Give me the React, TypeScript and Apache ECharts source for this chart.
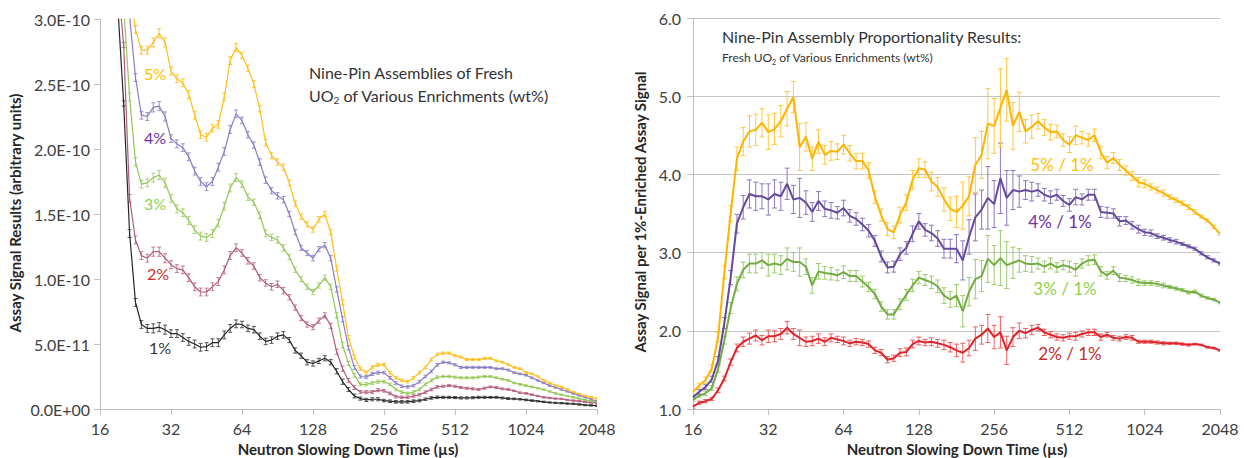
import React, { useEffect, useRef } from "react";
import * as echarts from "echarts";

// Slowing-down time grid (µs), log2 spaced
const times = [16, 16.95, 17.96, 19.03, 20.16, 21.36, 22.63, 23.97, 25.4, 26.91, 28.51, 30.2,
  32, 33.9, 35.92, 38.05, 40.32, 42.71, 45.25, 47.95, 50.8, 53.82, 57.02, 60.41,
  64, 67.8, 71.84, 76.11, 80.63, 85.43, 90.51, 95.89, 101.6, 107.6, 114, 120.8,
  128, 135.6, 143.7, 152.2, 161.3, 170.9, 181, 191.8, 203.2, 215.3, 228.1, 241.6,
  256, 271.2, 287.4, 304.4, 322.5, 341.7, 362, 383.6, 406.4, 430.5, 456.1, 483.3,
  512, 542.4, 574.7, 608.9, 645.1, 683.4, 724.1, 767.1, 812.7, 861, 912.2, 966.5,
  1024, 1085, 1149, 1218, 1290, 1367, 1448, 1534, 1625, 1722, 1825, 1933, 2048];

// Left panel: assay signal (units of 1E-10)
const sig5 = [9, 7, 5.5, 4.4, 3.7, 3.25, 2.92, 2.76, 2.76, 2.82, 2.89, 2.82,
  2.6, 2.54, 2.51, 2.42, 2.26, 2.11, 2.09, 2.16, 2.19, 2.4, 2.68, 2.78,
  2.72, 2.62, 2.5, 2.31, 2.05, 1.95, 1.9, 1.86, 1.74, 1.58, 1.48, 1.42,
  1.38, 1.46, 1.5, 1.36, 1.08, 0.82, 0.55, 0.4, 0.31, 0.28, 0.32, 0.34,
  0.34, 0.28, 0.24, 0.22, 0.21, 0.24, 0.28, 0.32, 0.38, 0.42, 0.43, 0.43,
  0.41, 0.4, 0.38, 0.38, 0.38, 0.39, 0.39, 0.37, 0.36, 0.34, 0.32, 0.31,
  0.28, 0.27, 0.25, 0.22, 0.2, 0.18, 0.17, 0.15, 0.13, 0.115, 0.1, 0.09, 0.08];
const sig4 = [8.5, 6.5, 5, 4, 3.3, 3.02, 2.55, 2.26, 2.25, 2.32, 2.33, 2.25,
  2.08, 2.04, 2.01, 1.94, 1.83, 1.75, 1.71, 1.75, 1.86, 1.98, 2.15, 2.27,
  2.22, 2.11, 2.03, 1.9, 1.76, 1.68, 1.64, 1.61, 1.5, 1.36, 1.24, 1.2,
  1.16, 1.23, 1.26, 1.16, 0.92, 0.69, 0.47, 0.32, 0.25, 0.245, 0.27, 0.28,
  0.28, 0.24, 0.2, 0.175, 0.17, 0.18, 0.21, 0.25, 0.29, 0.34, 0.36, 0.355,
  0.34, 0.32, 0.32, 0.32, 0.32, 0.32, 0.32, 0.31, 0.31, 0.3, 0.28, 0.27,
  0.26, 0.24, 0.22, 0.2, 0.18, 0.165, 0.15, 0.135, 0.12, 0.105, 0.09, 0.075, 0.06];
const sig3 = [8, 6, 4.6, 3.7, 3.1, 2.4, 1.9, 1.73, 1.74, 1.78, 1.8, 1.74,
  1.62, 1.54, 1.51, 1.45, 1.38, 1.33, 1.32, 1.35, 1.43, 1.56, 1.7, 1.78,
  1.73, 1.63, 1.59, 1.49, 1.35, 1.32, 1.3, 1.24, 1.17, 1.07, 1, 0.94,
  0.9, 0.95, 1.01, 0.94, 0.72, 0.49, 0.35, 0.26, 0.19, 0.19, 0.2, 0.21,
  0.21, 0.19, 0.15, 0.13, 0.12, 0.13, 0.15, 0.19, 0.22, 0.245, 0.25, 0.25,
  0.245, 0.24, 0.24, 0.24, 0.245, 0.25, 0.25, 0.24, 0.23, 0.22, 0.2, 0.19,
  0.18, 0.17, 0.16, 0.15, 0.135, 0.12, 0.11, 0.1, 0.09, 0.08, 0.07, 0.06, 0.055];
const sig2 = [7.5, 5.5, 4.2, 3.3, 2.8, 1.62, 1.3, 1.18, 1.16, 1.21, 1.21, 1.16,
  1.11, 1.08, 1.07, 1.01, 0.94, 0.9, 0.9, 0.94, 0.98, 1.07, 1.18, 1.24,
  1.2, 1.14, 1.1, 1.01, 0.97, 0.94, 0.96, 0.91, 0.86, 0.78, 0.7, 0.65,
  0.63, 0.68, 0.72, 0.64, 0.44, 0.31, 0.22, 0.165, 0.13, 0.13, 0.13, 0.145,
  0.14, 0.12, 0.095, 0.09, 0.09, 0.1, 0.11, 0.13, 0.15, 0.17, 0.175, 0.18,
  0.175, 0.165, 0.16, 0.155, 0.15, 0.16, 0.17, 0.165, 0.155, 0.15, 0.14, 0.125,
  0.12, 0.11, 0.1, 0.09, 0.085, 0.08, 0.078, 0.07, 0.065, 0.06, 0.055, 0.05, 0.045];
const sig1 = [7, 5, 3.8, 3.1, 2.35, 1.35, 0.82, 0.65, 0.62, 0.62, 0.63, 0.61,
  0.58, 0.58, 0.55, 0.52, 0.5, 0.475, 0.48, 0.51, 0.51, 0.57, 0.62, 0.655,
  0.65, 0.62, 0.61, 0.56, 0.52, 0.53, 0.56, 0.57, 0.53, 0.45, 0.41, 0.36,
  0.35, 0.37, 0.39, 0.36, 0.29, 0.21, 0.15, 0.1, 0.08, 0.07, 0.075, 0.075,
  0.065, 0.06, 0.055, 0.055, 0.055, 0.06, 0.065, 0.075, 0.085, 0.09, 0.09, 0.09,
  0.088, 0.085, 0.085, 0.087, 0.09, 0.09, 0.09, 0.09, 0.085, 0.08, 0.078, 0.075,
  0.07, 0.065, 0.06, 0.055, 0.05, 0.047, 0.045, 0.042, 0.04, 0.035, 0.03, 0.028, 0.025];
const sigErr = [0.02, 0.02, 0.02, 0.02, 0.02, 0.03, 0.03, 0.03, 0.03, 0.035, 0.035, 0.035,
  0.03, 0.03, 0.03, 0.03, 0.03, 0.03, 0.03, 0.03, 0.03, 0.03, 0.03, 0.03,
  0.025, 0.025, 0.025, 0.025, 0.025, 0.025, 0.025, 0.025, 0.02, 0.02, 0.02, 0.02,
  0.02, 0.02, 0.02, 0.02, 0.02, 0.02, 0.015, 0.015, 0.012, 0.012, 0.012, 0.012,
  0.01, 0.01, 0.01, 0.01, 0.01, 0.01, 0.01, 0.01, 0.01, 0.01, 0.008, 0.008,
  0.008, 0.008, 0.008, 0.008, 0.008, 0.008, 0.007, 0.007, 0.007, 0.007, 0.006, 0.006,
  0.006, 0.006, 0.005, 0.005, 0.005, 0.005, 0.005, 0.005, 0.005, 0.005, 0.005, 0.005, 0.005];

// Right panel: ratio to 1%-enriched signal
const r5 = [1.22, 1.3, 1.37, 1.52, 1.92, 2.75, 3.5, 4.2, 4.42, 4.55, 4.57, 4.66,
  4.54, 4.58, 4.68, 4.84, 4.99, 4.35, 4.48, 4.2, 4.42, 4.25, 4.3, 4.29,
  4.38, 4.27, 4.17, 4.17, 4.05, 3.71, 3.48, 3.3, 3.26, 3.48, 3.64, 3.93,
  4.08, 4.06, 3.91, 3.84, 3.68, 3.56, 3.52, 3.6, 3.72, 4.12, 4.25, 4.65,
  4.62, 4.85, 5.08, 4.62, 4.8, 4.55, 4.61, 4.68, 4.6, 4.54, 4.55, 4.44,
  4.38, 4.5, 4.47, 4.44, 4.5, 4.28, 4.15, 4.21, 4.12, 4.05, 3.98, 3.9,
  3.88, 3.84, 3.8, 3.76, 3.71, 3.67, 3.63, 3.58, 3.52, 3.46, 3.41, 3.33, 3.24];
const r4 = [1.15, 1.22, 1.28, 1.38, 1.62, 2.1, 2.68, 3.37, 3.58, 3.75, 3.72, 3.72,
  3.68, 3.75, 3.72, 3.88, 3.68, 3.7, 3.64, 3.52, 3.66, 3.56, 3.54, 3.51,
  3.57, 3.47, 3.43, 3.36, 3.28, 3.15, 2.95, 2.81, 2.82, 2.98, 3.06, 3.24,
  3.4, 3.29, 3.25, 3.18, 3.05, 3.05, 3.05, 2.9, 3.2, 3.45, 3.55, 3.7,
  3.62, 3.95, 3.7, 3.8, 3.78, 3.8, 3.78, 3.8, 3.74, 3.71, 3.74, 3.66,
  3.61, 3.71, 3.68, 3.74, 3.74, 3.52, 3.51, 3.5, 3.4, 3.41, 3.35, 3.3,
  3.26, 3.25, 3.21, 3.19, 3.16, 3.14, 3.11, 3.08, 3.05, 2.99, 2.94, 2.9, 2.86];
const r3 = [1.12, 1.17, 1.2, 1.27, 1.51, 1.88, 2.29, 2.6, 2.78, 2.86, 2.86, 2.9,
  2.84, 2.86, 2.84, 2.92, 2.88, 2.88, 2.82, 2.58, 2.76, 2.74, 2.73, 2.71,
  2.75, 2.7, 2.7, 2.63, 2.56, 2.47, 2.31, 2.21, 2.21, 2.34, 2.46, 2.58,
  2.68, 2.65, 2.62, 2.57, 2.45, 2.4, 2.45, 2.25, 2.5, 2.66, 2.7, 2.92,
  2.84, 2.93, 2.84, 2.87, 2.9, 2.86, 2.85, 2.86, 2.82, 2.86, 2.81, 2.84,
  2.82, 2.78, 2.86, 2.9, 2.91, 2.76, 2.71, 2.77, 2.68, 2.67, 2.65, 2.62,
  2.61, 2.61, 2.6, 2.58, 2.56, 2.54, 2.52, 2.49, 2.5, 2.45, 2.42, 2.4, 2.36];
const r2 = [1.03, 1.08, 1.1, 1.13, 1.24, 1.39, 1.6, 1.78, 1.86, 1.9, 1.94, 1.88,
  1.93, 1.93, 1.96, 2.04, 1.96, 1.91, 1.86, 1.87, 1.9, 1.86, 1.91, 1.89,
  1.87, 1.84, 1.86, 1.85, 1.83, 1.75, 1.72, 1.63, 1.65, 1.72, 1.73, 1.83,
  1.87, 1.85, 1.86, 1.84, 1.82, 1.79, 1.75, 1.72, 1.78, 1.9, 1.95, 2.03,
  1.92, 1.98, 1.75, 1.92, 2, 1.97, 2.01, 2.04, 1.98, 1.95, 1.92, 1.91,
  1.93, 1.93, 1.96, 1.98, 1.98, 1.92, 1.95, 1.91, 1.9, 1.92, 1.91, 1.86,
  1.86, 1.86, 1.85, 1.84, 1.84, 1.84, 1.83, 1.82, 1.83, 1.82, 1.79, 1.78, 1.75];
const r5Err = [0.03, 0.03, 0.04, 0.05, 0.06, 0.08, 0.1, 0.15, 0.18, 0.2, 0.2, 0.18,
  0.22, 0.2, 0.2, 0.22, 0.2, 0.3, 0.18, 0.15, 0.15, 0.12, 0.12, 0.1,
  0.12, 0.1, 0.1, 0.1, 0.1, 0.08, 0.08, 0.08, 0.08, 0.1, 0.1, 0.12,
  0.12, 0.1, 0.12, 0.12, 0.15, 0.15, 0.2, 0.3, 0.25, 0.35, 0.3, 0.45,
  0.35, 0.5, 0.4, 0.3, 0.25, 0.15, 0.15, 0.1, 0.1, 0.1, 0.08, 0.08,
  0.1, 0.12, 0.08, 0.08, 0.08, 0.08, 0.08, 0.07, 0.07, 0.06, 0.06, 0.06,
  0.05, 0.04, 0.04, 0.04, 0.03, 0.03, 0.03, 0.03, 0.03, 0.02, 0.02, 0.02, 0.02];
const r4Err = [0.03, 0.03, 0.03, 0.04, 0.05, 0.07, 0.09, 0.12, 0.15, 0.18, 0.18, 0.16,
  0.2, 0.18, 0.18, 0.2, 0.18, 0.25, 0.15, 0.12, 0.12, 0.1, 0.1, 0.08,
  0.1, 0.08, 0.08, 0.08, 0.08, 0.07, 0.07, 0.07, 0.07, 0.08, 0.08, 0.1,
  0.1, 0.08, 0.1, 0.1, 0.12, 0.12, 0.18, 0.25, 0.22, 0.3, 0.25, 0.4,
  0.3, 0.45, 0.35, 0.25, 0.2, 0.12, 0.12, 0.08, 0.08, 0.08, 0.07, 0.07,
  0.08, 0.1, 0.07, 0.07, 0.07, 0.07, 0.07, 0.06, 0.06, 0.05, 0.05, 0.05,
  0.04, 0.04, 0.03, 0.03, 0.03, 0.03, 0.02, 0.02, 0.02, 0.02, 0.02, 0.02, 0.02];
const r3Err = [0.02, 0.02, 0.03, 0.03, 0.04, 0.05, 0.07, 0.09, 0.1, 0.12, 0.12, 0.1,
  0.14, 0.12, 0.12, 0.14, 0.12, 0.18, 0.1, 0.1, 0.1, 0.08, 0.08, 0.07,
  0.08, 0.07, 0.07, 0.07, 0.06, 0.06, 0.06, 0.06, 0.06, 0.07, 0.07, 0.08,
  0.08, 0.07, 0.08, 0.08, 0.1, 0.1, 0.14, 0.2, 0.18, 0.25, 0.2, 0.3,
  0.25, 0.35, 0.3, 0.2, 0.15, 0.1, 0.1, 0.07, 0.07, 0.07, 0.06, 0.06,
  0.07, 0.08, 0.06, 0.06, 0.06, 0.06, 0.05, 0.05, 0.05, 0.04, 0.04, 0.04,
  0.03, 0.03, 0.03, 0.03, 0.02, 0.02, 0.02, 0.02, 0.02, 0.02, 0.015, 0.015, 0.015];
const r2Err = [0.02, 0.02, 0.02, 0.02, 0.03, 0.03, 0.04, 0.05, 0.06, 0.07, 0.07, 0.06,
  0.08, 0.07, 0.07, 0.08, 0.07, 0.1, 0.06, 0.06, 0.06, 0.05, 0.05, 0.04,
  0.05, 0.04, 0.04, 0.04, 0.04, 0.04, 0.04, 0.04, 0.04, 0.05, 0.05, 0.05,
  0.05, 0.04, 0.05, 0.05, 0.06, 0.06, 0.08, 0.12, 0.1, 0.15, 0.12, 0.18,
  0.15, 0.2, 0.18, 0.12, 0.1, 0.06, 0.06, 0.04, 0.04, 0.04, 0.04, 0.04,
  0.04, 0.05, 0.04, 0.04, 0.04, 0.04, 0.03, 0.03, 0.03, 0.03, 0.03, 0.02,
  0.02, 0.02, 0.02, 0.02, 0.015, 0.015, 0.015, 0.015, 0.01, 0.01, 0.01, 0.01, 0.01];

const xTicks = ["16", "32", "64", "128", "256", "512", "1024", "2048"];

const FONT = "Lato";
const AXIS_GRAY = "#BFBFBF";
const TEXT = "#404040";

function lineSeries(grid: number, vals: number[], color: string, width: number) {
  return {
    type: "line",
    xAxisIndex: grid,
    yAxisIndex: grid,
    data: times.map((t, i) => [t, vals[i]]),
    showSymbol: false,
    symbol: "none",
    lineStyle: { color, width },
    z: 3,
    clip: true,
  };
}

function errSeries(grid: number, vals: number[], errs: number[], color: string, cap: number, ymax: number) {
  const data = times
    .map((t, i) => [t, vals[i] - errs[i], vals[i] + errs[i]])
    .filter((d) => d[2] <= ymax);
  return {
    type: "custom",
    xAxisIndex: grid,
    yAxisIndex: grid,
    silent: true,
    z: 2,
    clip: true,
    encode: { x: 0, y: [1, 2] },
    data,
    renderItem: (_p: any, api: any) => {
      const lo = api.coord([api.value(0), api.value(1)]);
      const hi = api.coord([api.value(0), api.value(2)]);
      const style = { stroke: color, lineWidth: 1 };
      return {
        type: "group",
        children: [
          { type: "line", shape: { x1: lo[0], y1: lo[1], x2: hi[0], y2: hi[1] }, style },
          { type: "line", shape: { x1: lo[0] - cap, y1: lo[1], x2: lo[0] + cap, y2: lo[1] }, style },
          { type: "line", shape: { x1: hi[0] - cap, y1: hi[1], x2: hi[0] + cap, y2: hi[1] }, style },
        ],
      };
    },
  };
}

function sciLabel(v: number) {
  const s = (v * 1e-10).toExponential(1).toUpperCase();
  return s.replace(/E([+-])(\d)$/, "E$10$2");
}

function xAxisCfg(grid: number) {
  return {
    type: "log",
    logBase: 2,
    gridIndex: grid,
    min: 16,
    max: 2048,
    axisLine: { show: true, lineStyle: { color: AXIS_GRAY, width: 1 } },
    axisTick: { show: true, length: 6, lineStyle: { color: AXIS_GRAY } },
    axisLabel: {
      color: TEXT,
      fontFamily: FONT,
      fontSize: 16,
      margin: 11,
      lineHeight: 16,
      formatter: (v: number) => xTicks.find((s) => Math.abs(Number(s) - v) < 0.5) || String(Math.round(v)),
    },
    splitLine: { show: false },
    minorTick: { show: false },
  };
}

function txt(x: number, y: number, text: string, color: string, fontSize: number, extra: any = {}) {
  return {
    type: "text",
    x,
    y,
    silent: true,
    style: {
      text,
      fill: color,
      fontSize,
      fontFamily: FONT,
      textAlign: extra.align || "center",
      textVerticalAlign: "middle",
      fontWeight: extra.bold ? "bold" : "normal",
      rich: extra.rich,
    },
    rotation: extra.rotation || 0,
  };
}

export default function App() {
  const ref = useRef<HTMLDivElement>(null);
  useEffect(() => {
    if (!ref.current) return;
    const chart = echarts.init(ref.current, undefined, { renderer: "svg" });
    const subRich = (size: number) => ({
      n: { fontSize: size, fontFamily: FONT, color: "#333333" },
      s: { fontSize: Math.round(size * 0.62), fontFamily: FONT, color: "#333333", verticalAlign: "bottom", lineHeight: size + 4 },
    });
    chart.setOption({
      animation: false,
      backgroundColor: "#ffffff",
      grid: [
        { left: 100, top: 19, width: 497, height: 390 },
        { left: 693, top: 18, width: 527, height: 391 },
      ],
      xAxis: [xAxisCfg(0), xAxisCfg(1)],
      yAxis: [
        {
          type: "value",
          gridIndex: 0,
          min: 0,
          max: 3,
          interval: 0.5,
          axisLine: { show: true, lineStyle: { color: AXIS_GRAY } },
          axisTick: { show: true, length: 6, lineStyle: { color: AXIS_GRAY } },
          axisLabel: { color: TEXT, fontFamily: FONT, fontSize: 16, margin: 10, formatter: sciLabel },
          splitLine: { show: false },
        },
        {
          type: "value",
          gridIndex: 1,
          min: 1,
          max: 6,
          interval: 1,
          axisLine: { show: true, lineStyle: { color: AXIS_GRAY } },
          axisTick: { show: true, length: 6, lineStyle: { color: AXIS_GRAY } },
          axisLabel: { color: TEXT, fontFamily: FONT, fontSize: 16, margin: 12, formatter: (v: number) => v.toFixed(1) },
          splitLine: { show: true, lineStyle: { color: "#C4C4C4", width: 1 } },
        },
      ],
      series: [
        errSeries(0, sig1, sigErr, "#555555", 2, 3),
        errSeries(0, sig2, sigErr, "#C27A95", 2, 3),
        errSeries(0, sig3, sigErr, "#A9D275", 2, 3),
        errSeries(0, sig4, sigErr, "#9C91CC", 2, 3),
        errSeries(0, sig5, sigErr, "#FFC530", 2, 3),
        lineSeries(0, sig1, "#262626", 1.2),
        lineSeries(0, sig2, "#B35A7C", 1.2),
        lineSeries(0, sig3, "#92C857", 1.2),
        lineSeries(0, sig4, "#8A7DC2", 1.2),
        lineSeries(0, sig5, "#FFBE1A", 1.2),
        errSeries(1, r2, r2Err, "#EE6060", 2.5, 6),
        errSeries(1, r3, r3Err, "#9DCB6E", 2.5, 6),
        errSeries(1, r4, r4Err, "#8C78BC", 2.5, 6),
        errSeries(1, r5, r5Err, "#FFC840", 2.5, 6),
        lineSeries(1, r2, "#E0232B", 2),
        lineSeries(1, r3, "#73AC42", 2),
        lineSeries(1, r4, "#654A9C", 2),
        lineSeries(1, r5, "#FFB400", 2),
      ],
      graphic: [
        txt(309, 72, "Nine-Pin Assemblies of Fresh", "#333333", 16, { align: "left" }),
        txt(309, 95, "{n|UO}{s|2}{n| of Various Enrichments (wt%)}", "#333333", 16, { align: "left", rich: subRich(16) }),
        txt(722, 36, "Nine-Pin Assembly Proportionality Results:", "#333333", 16, { align: "left" }),
        txt(722, 57, "{n|Fresh UO}{s|2}{n| of Various Enrichments (wt%)}", "#333333", 12, { align: "left", rich: subRich(12) }),
        txt(155, 73, "5%", "#FFC000", 16),
        txt(155, 137, "4%", "#7030A0", 16),
        txt(155, 203, "3%", "#92D050", 16),
        txt(158, 273, "2%", "#D02A2A", 16),
        txt(160, 347, "1%", "#333333", 16),
        txt(1062, 164, "5% / 1%", "#FFC000", 17),
        txt(1060, 221, "4% / 1%", "#7030A0", 17),
        txt(1065, 288, "3% / 1%", "#92D050", 17),
        txt(1070, 353, "2% / 1%", "#C0302A", 17),
        txt(348, 449, "Neutron Slowing Down Time (µs)", "#262626", 15, { bold: true }),
        txt(957, 449, "Neutron Slowing Down Time (µs)", "#262626", 15, { bold: true }),
        txt(15, 213, "Assay Signal Results (arbitrary units)", "#262626", 15, { bold: true, rotation: Math.PI / 2 }),
        txt(640, 212, "Assay Signal per 1%-Enriched Assay Signal", "#262626", 15, { bold: true, rotation: Math.PI / 2 }),
      ],
    });
    return () => chart.dispose();
  }, []);
  return (
    <div
      ref={ref}
      style={{ position: "fixed", left: 0, top: 0, width: 1244, height: 458, background: "#fff" }}
    />
  );
}
